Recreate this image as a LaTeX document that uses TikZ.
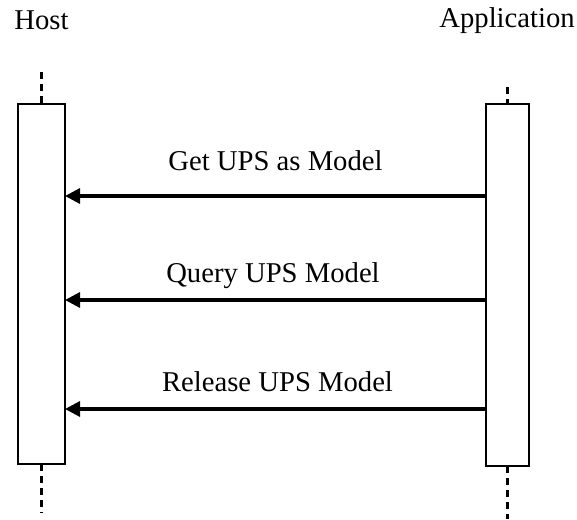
\documentclass[tikz,border=0pt]{standalone}
\usepackage{fontspec}
\setmainfont{Liberation Serif}
\usetikzlibrary{arrows.meta}
\begin{document}
\begin{tikzpicture}[x=0.75pt,y=-0.75pt,
  actbox/.style={draw=black, fill=white, line width=1.6pt, inner sep=0pt, outer sep=0pt},
  life/.style={draw=black, line width=1.6pt, dash pattern=on 5.25pt off 3.75pt},
  msg/.style={draw=black, line width=2.4pt, -{Triangle[length=11.25pt,width=11.25pt]}},
  lbl/.style={font=\fontsize{21.5pt}{24pt}\selectfont, inner sep=0pt},
  hdr/.style={font=\fontsize{21.5pt}{24pt}\selectfont, inner sep=0pt}]
\useasboundingbox[fill=white] (0,0) rectangle (577,520);
% headers
\node[hdr, anchor=base] (hhost) at (41.5,30) {Host};
\node[hdr, anchor=base east] (happ) at (575,28) {Application};
% lifeline ends
\coordinate (ht) at (41.5,72);
\coordinate (hb) at (41.5,513);
\coordinate (at) at (507.5,87);
\coordinate (ab) at (507.5,519);
% activation boxes
\node[actbox, minimum width=35.25pt, minimum height=270pt] (host) at (41.5,284) {};
\node[actbox, minimum width=32.25pt, minimum height=271.5pt] (app) at (507.5,285) {};
\draw[life] (ht) -- (host.north);
\draw[life] (host.south) -- (hb);
\draw[life] (at) -- (app.north);
\draw[life] (app.south) -- (ab);
% messages
\coordinate (m1) at (0,196);
\coordinate (m2) at (0,300);
\coordinate (m3) at (0,409);
\draw[msg] (app.west |- m1) -- (host.east |- m1);
\draw[msg] (app.west |- m2) -- (host.east |- m2);
\draw[msg] (app.west |- m3) -- (host.east |- m3);
\node[lbl, anchor=base] (l1) at (275.5,171) {Get UPS as Model};
\node[lbl, anchor=base] (l2) at (273,282) {Query UPS Model};
\node[lbl, anchor=base] (l3) at (277.5,391) {Release UPS Model};
\end{tikzpicture}
\end{document}
